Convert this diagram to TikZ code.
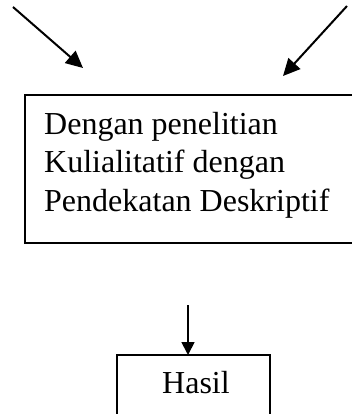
\documentclass[tikz,border=0pt]{standalone}
\usepackage{fontspec}
\setmainfont{Liberation Serif}
\usetikzlibrary{arrows.meta}
\begin{document}
\begin{tikzpicture}[x=1pt,y=-1pt,
  boxstyle/.style={draw, line width=2pt, inner sep=0pt, outer sep=0pt, anchor=north west},
  arr/.style={line width=2pt, -{Triangle[length=17pt,width=16pt]}},
  arrsmall/.style={line width=1.8pt, -{Triangle[length=13pt,width=13pt]}},
  txt/.style={font=\fontsize{32}{38.5}\selectfont, inner sep=0pt, anchor=base west, align=left}]
\useasboundingbox (0,0) rectangle (352,414);
\clip (0,0) rectangle (352,414);
% main box
\node[boxstyle, minimum width=328pt, minimum height=148pt] (main) at (25,95) {};
\node[txt] (maintext) at (44,211) {Dengan penelitian\\Kulialitatif dengan\\Pendekatan Deskriptif};
% top arrows
\coordinate (lstart) at (13,7);
\coordinate (lend) at (83,68);
\coordinate (rstart) at (347,6);
\coordinate (rend) at (283,76);
\draw[arr] (lstart) -- (lend);
\draw[arr] (rstart) -- (rend);
% result box
\node[boxstyle, line width=1.8pt, minimum width=153pt, minimum height=80pt] (hasil) at (117,355) {};
\node[txt, anchor=base] (hasiltext) at (196,393) {Hasil};
\coordinate (bstart) at (188,305);
\draw[arrsmall] (bstart) -- (bstart |- hasil.north);
\end{tikzpicture}
\end{document}
